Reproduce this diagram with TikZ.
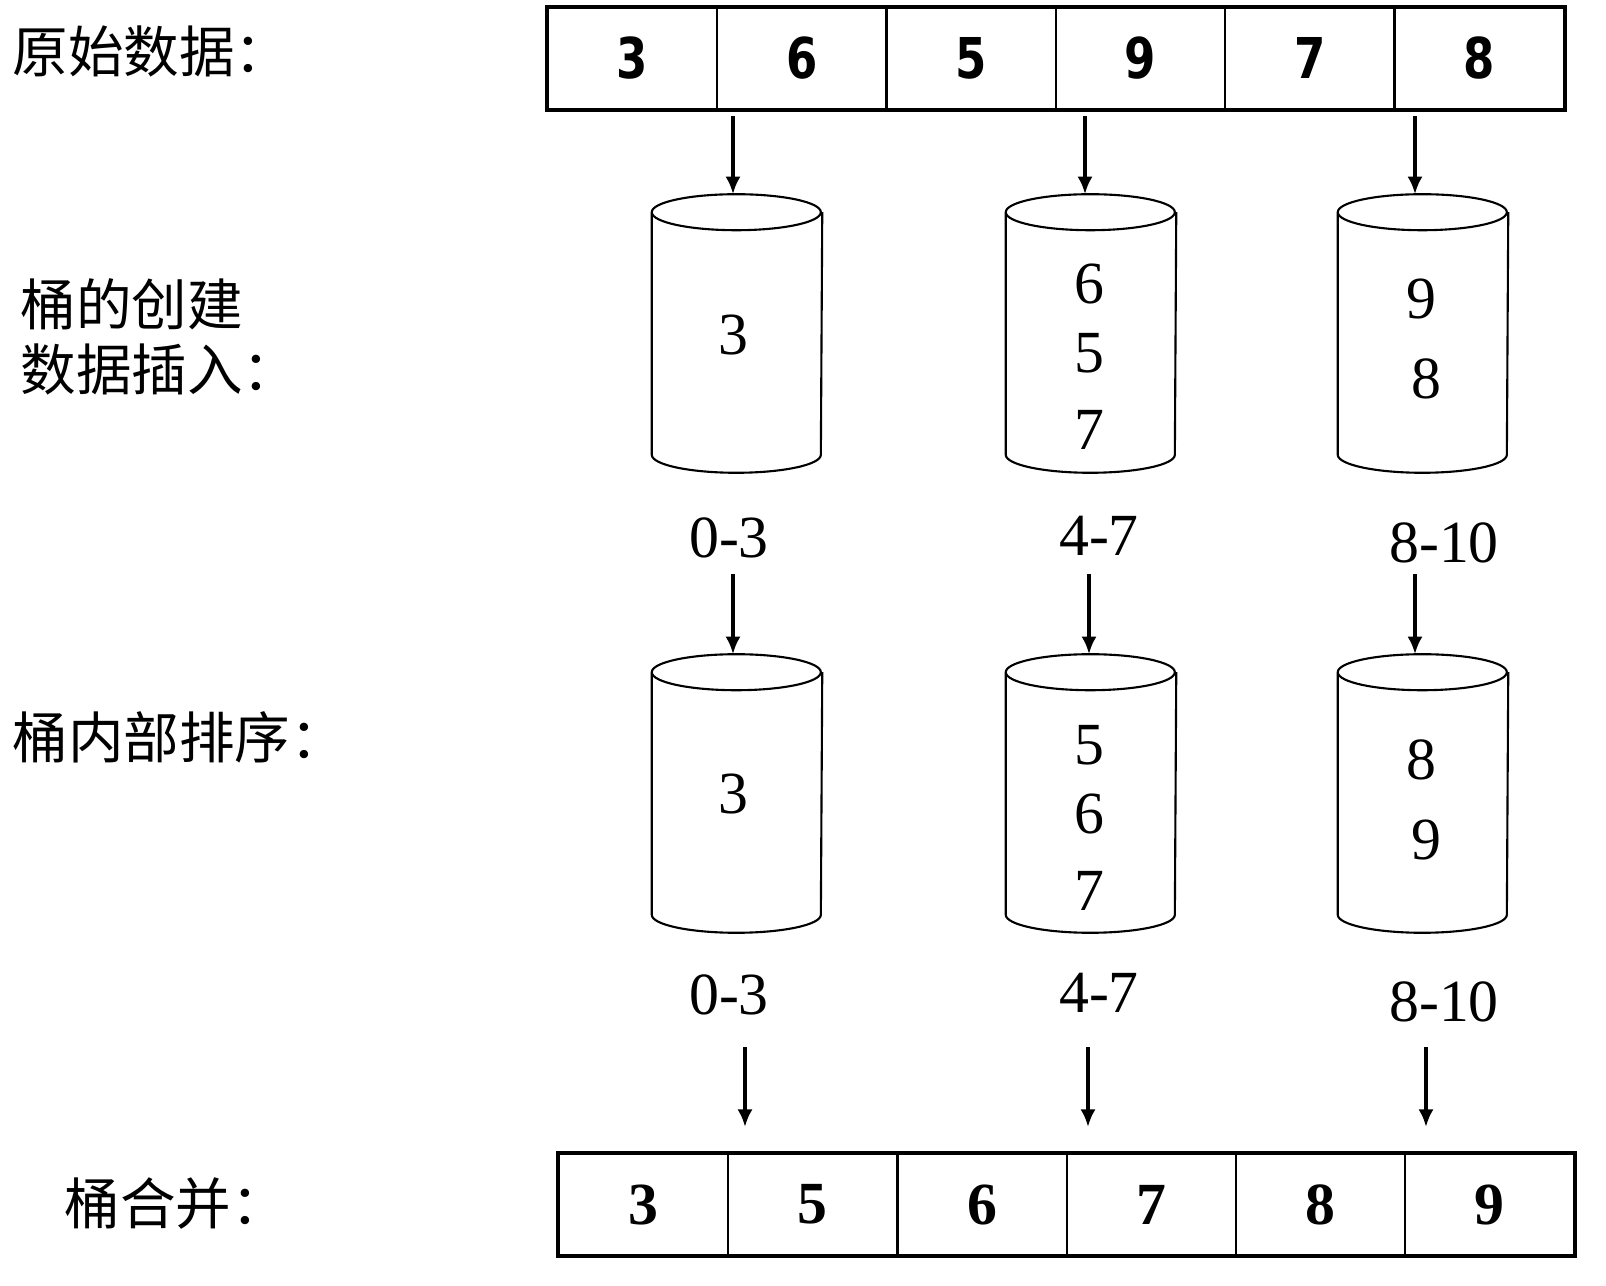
\documentclass[tikz,border=0pt]{standalone}
\usepackage{fontspec}
\usepackage{tikz}
\usetikzlibrary{scopes,arrows.meta}
\setmainfont{Liberation Serif}
\newfontfamily\cjkfont{Noto Sans CJK SC}
\newfontfamily\cellfont[FakeStretch=0.8]{DejaVu Sans}

% outline of a bucket round a named node
\newcommand\drawbucket[1]{%
    \draw[bucketline] ([yshift=-0.18cm]#1.north west)
        arc[start angle=180,end angle=540,x radius=0.845cm,y radius=0.18cm]
        -- ([yshift=0.18cm]#1.south west)
        arc[start angle=180,end angle=360,x radius=0.845cm,y radius=0.18cm]
        -- ([yshift=-0.18cm]#1.north east);}

\begin{document}
\begin{tikzpicture}[x=0.01cm,y=-0.01cm,
    arr/.style={>={Latex[length=5pt,width=4.3pt]},->,line width=1.1pt},
    cell/.style={rectangle,draw=black,line width=0.6pt,minimum width=1.69cm,minimum height=1.01cm,inner sep=0pt,font=\cellfont\bfseries\fontsize{16}{16}\selectfont},
    rcell/.style={cell,font=\bfseries\fontsize{17}{17}\selectfont},
    bucket/.style={rectangle,minimum width=1.69cm,minimum height=2.77cm,inner sep=0pt},
    bucketline/.style={draw=black,line width=0.6pt},
    num/.style={font=\fontsize{17}{17}\selectfont,inner sep=0pt},
    lbl/.style={anchor=west,font=\cjkfont\fontsize{15.8}{15.8}\selectfont,inner sep=0pt},
]
    \useasboundingbox (0,0) rectangle (1606,1286);

    % rows of data
    \foreach \v [count=\i] in {3,6,5,9,7,8}
        \node[cell] (a\i) at ({548+169.3*(\i-0.5)},58.5) {\v};
    \draw[line width=1.1pt] (a1.north west) rectangle (a6.south east);
    \foreach \v [count=\i] in {3,5,6,7,8,9}
        \node[rcell] (c\i) at ({559+169.2*(\i-0.5)},1204.5) {\v};
    \draw[line width=1.1pt] (c1.north west) rectangle (c6.south east);

    % buckets
    \node[bucket] (b1) at (737,333.5) {};
    \node[bucket] (b2) at (1091,333.5) {};
    \node[bucket] (b3) at (1423,333.5) {};
    \node[bucket] (d1) at (737,793.5) {};
    \node[bucket] (d2) at (1091,793.5) {};
    \node[bucket] (d3) at (1423,793.5) {};
    \foreach \n in {b1,b2,b3,d1,d2,d3} {\drawbucket{\n}}

    \node[num] (b1a) at (733,335) {3};
    \node[num] (b2a) at (1089,284) {6};
    \node[num] (b2b) at (1089,353) {5};
    \node[num] (b2c) at (1089,430) {7};
    \node[num] (b3a) at (1421,299) {9};
    \node[num] (b3b) at (1426,379) {8};
    \node[num] (d1a) at (733,794) {3};
    \node[num] (d2a) at (1089,745) {5};
    \node[num] (d2b) at (1089,814) {6};
    \node[num] (d2c) at (1089,891) {7};
    \node[num] (d3a) at (1421,760) {8};
    \node[num] (d3b) at (1426,840) {9};

    % ranges
    \node[num] (r1) at (729,538) {0-3};
    \node[num] (r2) at (1099,536) {4-7};
    \node[num] (r3) at (1444,543) {8-10};
    \node[num] (q1) at (729,995) {0-3};
    \node[num] (q2) at (1099,993) {4-7};
    \node[num] (q3) at (1444,1002) {8-10};

    % row titles
    \node[lbl] (t1) at (12,51) {原始数据：};
    \node[lbl] (t2) at (20,304) {桶的创建};
    \node[lbl] (t3) at (20,369) {数据插入：};
    \node[lbl] (t4) at (12,737) {桶内部排序：};
    \node[lbl] (t5) at (64,1203) {桶合并：};

    \coordinate (s1) at (733,116);
    \coordinate (s2) at (1085,116);
    \coordinate (s3) at (1415,116);
    \coordinate (m1) at (733,574);
    \coordinate (m2) at (1089,574);
    \coordinate (m3) at (1415,574);
    \coordinate (e1) at (745,1047);
    \coordinate (e2) at (1088,1047);
    \coordinate (e3) at (1426,1047);
    \coordinate (f1) at (745,1127);
    \coordinate (f2) at (1088,1127);
    \coordinate (f3) at (1426,1127);
    {[arr]
        \draw (s1) -- (s1 |- b1.north);
        \draw (s2) -- (s2 |- b2.north);
        \draw (s3) -- (s3 |- b3.north);
        \draw (m1) -- (m1 |- d1.north);
        \draw (m2) -- (m2 |- d2.north);
        \draw (m3) -- (m3 |- d3.north);
        \draw (e1) -- (f1);
        \draw (e2) -- (f2);
        \draw (e3) -- (f3);
    }
\end{tikzpicture}
\end{document}
